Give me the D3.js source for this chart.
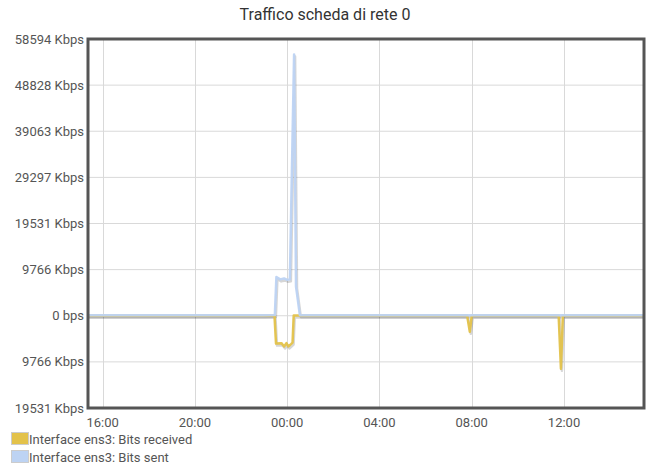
<!DOCTYPE html>
<html><head><meta charset="utf-8">
<script src="https://cdn.jsdelivr.net/npm/d3@7/dist/d3.min.js"></script>
<style>body{margin:0;background:#fff;font-family:Roboto,sans-serif;}</style>
</head><body><svg id="c" width="651" height="469"></svg>
<script>
const title = "Traffico scheda di rete 0";
const xDomain = ["2024-01-01T15:22", "2024-01-02T15:28"];
const xTicks = ["2024-01-01T16:00","2024-01-01T20:00","2024-01-02T00:00","2024-01-02T04:00","2024-01-02T08:00","2024-01-02T12:00"];
const yTicks = [58594, 48828, 39063, 29297, 19531, 9766, 0, -9766, -19531];
const yTickLabels = ["58594 Kbps","48828 Kbps","39063 Kbps","29297 Kbps","19531 Kbps","9766 Kbps","0 bps","9766 Kbps","19531 Kbps"];
const seriesNames = ["Interface ens3: Bits received", "Interface ens3: Bits sent"];
const sentTimes = ["2024-01-01T15:22","2024-01-01T17:00","2024-01-01T19:00","2024-01-01T21:00","2024-01-01T23:00","2024-01-01T23:28","2024-01-01T23:32","2024-01-01T23:42","2024-01-01T23:52","2024-01-02T00:00","2024-01-02T00:07","2024-01-02T00:18","2024-01-02T00:23","2024-01-02T00:28","2024-01-02T00:33","2024-01-02T03:00","2024-01-02T06:00","2024-01-02T09:00","2024-01-02T12:00","2024-01-02T15:28"];
const sentValues = [120,130,110,120,120,150,8200,7700,7900,7600,7700,55300,6200,3200,120,130,120,120,130,120];
const recvTimes = ["2024-01-01T15:22","2024-01-01T18:00","2024-01-01T21:00","2024-01-01T23:27","2024-01-01T23:31","2024-01-01T23:45","2024-01-01T23:52","2024-01-01T23:58","2024-01-02T00:03","2024-01-02T00:10","2024-01-02T00:14","2024-01-02T00:17","2024-01-02T03:00","2024-01-02T07:48","2024-01-02T07:55","2024-01-02T08:00","2024-01-02T11:46","2024-01-02T11:52","2024-01-02T11:57","2024-01-02T15:28"];
const recvValues = [40,50,30,40,-5900,-5800,-6500,-5800,-6500,-6000,-5700,40,40,40,-3400,40,40,-11200,40,40];

const colors = ["#E3C24A", "#BDD3F3"];
const parse = d3.isoParse;
const svg = d3.select("#c");
const m = {l:88, r:644, t:39, b:408};
const x = d3.scaleTime().domain(xDomain.map(parse)).range([m.l, m.r]);
const y = d3.scaleLinear().domain([-19531, 58594]).range([m.b, m.t]);

svg.append("text").attr("x", 325).attr("y", 20).attr("text-anchor","middle")
  .attr("font-size", 16).attr("fill","#333").text(title);

const g = svg.append("g");
g.selectAll(".hg").data(yTicks).join("line").attr("x1", m.l).attr("x2", m.r)
  .attr("y1", d=>y(d)).attr("y2", d=>y(d)).attr("stroke","#d9d9d9").attr("stroke-width",1);
g.selectAll(".vg").data(xTicks).join("line").attr("y1", m.t).attr("y2", m.b)
  .attr("x1", d=>Math.round(x(parse(d)))+0.5).attr("x2", d=>Math.round(x(parse(d)))+0.5).attr("stroke","#d9d9d9").attr("stroke-width",1);

svg.selectAll(".yl").data(yTicks).join("text").attr("x", 84).attr("y", d=>y(d)+4.5)
  .attr("text-anchor","end").attr("font-size",13).attr("fill","#555")
  .text((d,i)=>yTickLabels[i]);
const fmt = d3.timeFormat("%H:%M");
svg.selectAll(".xl").data(xTicks).join("text").attr("x", d=>x(parse(d))).attr("y", 427)
  .attr("text-anchor","middle").attr("font-size",13).attr("fill","#555")
  .text(d=>fmt(parse(d)));

const line = d3.line().x(d=>x(d[0])).y(d=>y(d[1]));
const series = [
  recvTimes.map((t,i)=>[parse(t), recvValues[i]]),
  sentTimes.map((t,i)=>[parse(t), sentValues[i]])
];
const defs = svg.append("defs");
defs.append("clipPath").attr("id","clip").append("rect").attr("x",m.l).attr("y",m.t).attr("width",m.r-m.l).attr("height",m.b-m.t);
const lg = svg.append("g").attr("clip-path","url(#clip)");
series.forEach((s,i)=>{
  lg.append("path").datum(s).attr("d", line).attr("fill","none").attr("stroke","#000")
    .attr("stroke-opacity",0.16).attr("stroke-width",2.5).attr("transform","translate(1,2)")
    .attr("stroke-linejoin","round");
});
series.forEach((s,i)=>{
  lg.append("path").datum(s).attr("d", line).attr("fill","none").attr("stroke",colors[i])
    .attr("stroke-width",2.5).attr("stroke-opacity",0.95).attr("stroke-linejoin","round");
});

svg.append("rect").attr("x",m.l).attr("y",m.t).attr("width",m.r-m.l).attr("height",m.b-m.t)
  .attr("fill","none").attr("stroke","#555").attr("stroke-width",3);

seriesNames.forEach((n,i)=>{
  const yy = 432 + i*18;
  svg.append("rect").attr("x",11.5).attr("y",yy+0.5).attr("width",17).attr("height",12)
    .attr("fill",colors[i]).attr("stroke","#ccc").attr("stroke-width",1);
  svg.append("text").attr("x",29).attr("y",yy+12).attr("font-size",13).attr("fill","#555").text(n);
});
</script></body></html>
